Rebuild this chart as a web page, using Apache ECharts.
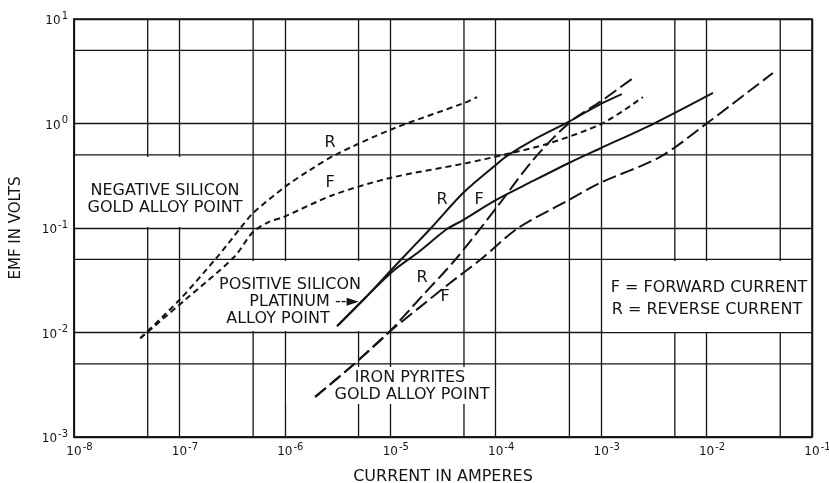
<!DOCTYPE html>
<html>
<head>
<meta charset="utf-8">
<script src="https://cdn.jsdelivr.net/npm/echarts@6/dist/echarts.min.js"></script>
<style>
  html, body { margin: 0; padding: 0; background: #fff; }
  #chart { width: 829px; height: 483px; }
</style>
</head>
<body>
<div id="chart"></div>
<script>
// EMF (volts) against current (amperes), log-log, for three crystal/point-contact pairs.
// Each curve is a list of [current, emf] points.

// Negative silicon, gold alloy point (short dashes)
const negSiliconReverse = [
  [4.25e-8, 0.0088], [1.0e-7, 0.0205], [2.28e-7, 0.0527], [3.8e-7, 0.1],
  [5.0e-7, 0.139], [1.0e-6, 0.247], [1.74e-6, 0.36], [3.0e-6, 0.5],
  [1.0e-5, 0.87], [5.0e-5, 1.57], [6.65e-5, 1.79]
];
const negSiliconForward = [
  [4.25e-8, 0.0088], [1.13e-7, 0.0205], [3.3e-7, 0.0527], [5.0e-7, 0.092],
  [7.0e-7, 0.114], [9.64e-7, 0.127], [2.87e-6, 0.207], [9.96e-6, 0.301],
  [5.35e-5, 0.419], [1.17e-4, 0.5], [3.27e-4, 0.65], [1.04e-3, 1.01], [2.49e-3, 1.79]
];

// Positive silicon, platinum alloy point (solid)
const posSiliconReverse = [
  [3.13e-6, 0.0115], [5.77e-6, 0.0214], [1.064e-5, 0.0414], [1.54e-5, 0.0615],
  [2.44e-5, 0.1], [4.9e-5, 0.216], [1.0e-4, 0.401], [1.28e-4, 0.49],
  [2.26e-4, 0.695], [4.84e-4, 1.03], [9.95e-4, 1.54], [1.57e-3, 1.91]
];
const posSiliconForward = [
  [3.13e-6, 0.0115], [5.77e-6, 0.0214], [1.064e-5, 0.0388], [1.91e-5, 0.0603],
  [3.45e-5, 0.0977], [4.9e-5, 0.119], [1.0e-4, 0.185], [2.26e-4, 0.282],
  [4.95e-4, 0.419], [1.0e-3, 0.583], [3.24e-3, 1.01], [1.15e-2, 1.96]
];

// Iron pyrites, gold alloy point (long dashes)
const ironPyritesReverse = [
  [1.94e-6, 0.00242], [4.43e-6, 0.00489], [9.53e-6, 0.00989], [2.0e-5, 0.0223],
  [4.11e-5, 0.0494], [1.03e-4, 0.159], [2.26e-4, 0.448], [5.06e-4, 1.03],
  [9.75e-4, 1.61], [2.14e-3, 2.85]
];
const ironPyritesForward = [
  [1.94e-6, 0.00242], [4.43e-6, 0.00489], [9.53e-6, 0.00989], [1.91e-5, 0.0175],
  [3.69e-5, 0.0298], [7.1e-5, 0.0494], [1.63e-4, 0.1], [4.74e-4, 0.181],
  [9.75e-4, 0.27], [3.6e-3, 0.477], [1.0e-2, 1.0], [4.25e-2, 3.04]
];

// Axis ranges and the intermediate (5 x decade) rulings
const xRange = [1e-8, 1e-1];
const yRange = [1e-3, 1e1];
const xHalfDecades = [5e-8, 5e-7, 5e-6, 5e-5, 5e-4, 5e-3, 5e-2];
const yHalfDecades = [5e-3, 5e-2, 5e-1, 5];

const INK = '#141414';
const FONT = '"DejaVu Sans", sans-serif';

function powerLabel(v, pad) {
  const e = Math.round(Math.log10(v));
  return pad ? '{p|' + e + '}{b|10}{s|' + e + '}' : '{b|10}{s|' + e + '}';
}
const labelRich = {
  b: { fontSize: 12, fontFamily: FONT, color: INK, verticalAlign: 'bottom', lineHeight: 16 },
  s: { fontSize: 10, fontFamily: FONT, color: INK, verticalAlign: 'bottom', lineHeight: 16, padding: [0, 0, 6, 1] },
  p: { fontSize: 10, fontFamily: FONT, color: 'rgba(0,0,0,0)', verticalAlign: 'bottom', lineHeight: 16, padding: [0, 1, 6, 0] }
};

function curve(name, data, dash) {
  return {
    name: name,
    type: 'line',
    data: data,
    smooth: 0.3,
    showSymbol: false,
    symbol: 'none',
    z: 2,
    lineStyle: { color: INK, width: 2, type: dash || 'solid', cap: 'butt' }
  };
}

// Intermediate rulings drawn as plain two-point lines across the plot
function ruling(data) {
  return {
    type: 'line', data: data, z: 0, silent: true, symbol: 'none', showSymbol: false,
    lineStyle: { color: INK, width: 1.3 }
  };
}
const rulingSeries = [];
xHalfDecades.forEach(v => rulingSeries.push(ruling([[v, yRange[0]], [v, yRange[1]]])));
yHalfDecades.forEach(v => rulingSeries.push(ruling([[xRange[0], v], [xRange[1], v]])));

// White panels behind the captions interrupt the rulings
function box(x, y, w, h) {
  return { type: 'rect', z: 1, silent: true, shape: { x: x, y: y, width: w, height: h }, style: { fill: '#fff' } };
}
function label(text, x, y, size) {
  return {
    type: 'text', z: 3, silent: true, x: x, y: y,
    style: { text: text, fill: INK, font: (size || 16) + 'px ' + FONT, align: 'center', verticalAlign: 'middle' }
  };
}

const chart = echarts.init(document.getElementById('chart'));
chart.setOption({
  animation: false,
  backgroundColor: '#fff',
  grid: {
    left: 74, right: 17, top: 19, bottom: 46,
    outerBoundsMode: 'none', containLabel: false,
    show: true, borderColor: INK, borderWidth: 1.6
  },
  xAxis: {
    type: 'log', logBase: 10, min: xRange[0], max: xRange[1], splitNumber: 7,
    name: 'CURRENT IN AMPERES', nameLocation: 'middle', nameGap: 32,
    nameTextStyle: { fontFamily: FONT, fontSize: 16, color: INK },
    axisLine: { lineStyle: { color: INK, width: 1.6 } },
    axisTick: { show: false },
    axisLabel: { margin: 5, formatter: v => powerLabel(v, true), rich: labelRich },
    splitLine: { show: true, lineStyle: { color: INK, width: 1.3 } }
  },
  yAxis: {
    type: 'log', logBase: 10, min: yRange[0], max: yRange[1], splitNumber: 4,
    name: 'EMF IN VOLTS', nameLocation: 'middle', nameGap: 50,
    nameTextStyle: { fontFamily: FONT, fontSize: 15, color: INK },
    axisLine: { lineStyle: { color: INK, width: 1.6 } },
    axisTick: { show: false },
    axisLabel: { margin: 6, formatter: v => powerLabel(v, false), rich: labelRich },
    splitLine: { show: true, lineStyle: { color: INK, width: 1.3 } }
  },
  series: rulingSeries.concat([
    curve('Negative silicon R', negSiliconReverse, [6, 4]),
    curve('Negative silicon F', negSiliconForward, [6, 4]),
    curve('Positive silicon R', posSiliconReverse),
    curve('Positive silicon F', posSiliconForward),
    curve('Iron pyrites R', ironPyritesReverse, [14, 5]),
    curve('Iron pyrites F', ironPyritesForward, [14, 5])
  ]),
  graphic: { elements: [
    box(75, 157, 176, 70),
    box(181, 261, 207, 70),
    box(286, 367, 208, 37),
    box(603, 261, 208, 71),
    label('NEGATIVE SILICON', 165, 191),
    label('GOLD ALLOY POINT', 165, 208),
    label('POSITIVE SILICON', 290, 285),
    label('PLATINUM --\u25BA', 304, 302),
    label('ALLOY POINT', 278, 319),
    label('IRON PYRITES', 410, 378),
    label('GOLD ALLOY POINT', 412, 395),
    label('F = FORWARD CURRENT', 709, 288),
    label('R = REVERSE CURRENT', 707, 310),
    label('R', 330, 143), label('F', 330, 183),
    label('R', 442, 200), label('F', 479, 200),
    label('R', 422, 278), label('F', 445, 297)
  ] }
});
</script>
</body>
</html>
